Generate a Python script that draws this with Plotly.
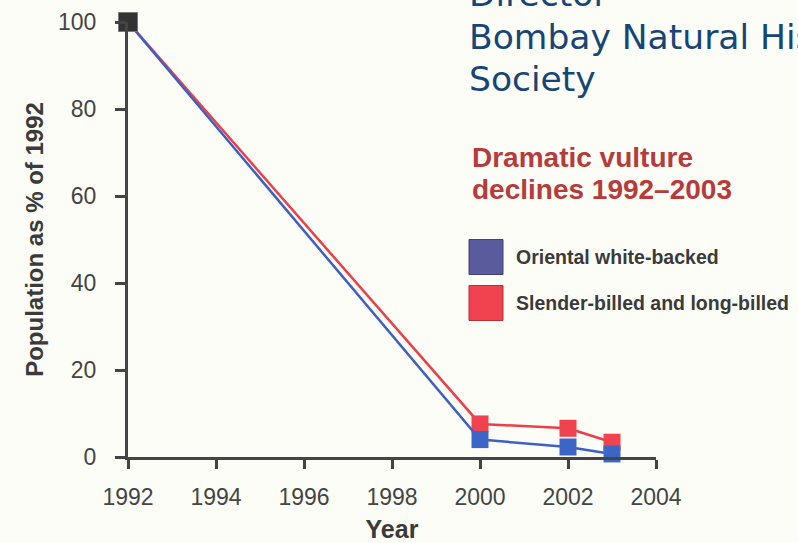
import plotly.graph_objects as go

years = [1992, 2000, 2002, 2003]
oriental_white_backed = [100, 4.0, 2.3, 0.7]
slender_long_billed = [100, 7.6, 6.6, 3.4]
base_year = [1992]
base_value = [100]

x_ticks = [1992, 1994, 1996, 1998, 2000, 2002, 2004]
y_ticks = [0, 20, 40, 60, 80, 100]

W, H = 798, 543
# screen-pixel positions of the plot area in the reference
SX0, SX1, SY0, SY1 = 128, 656, 22, 457
L = SX0
R = W - SX1
T = SY0
B = H - SY1
PW, PH = W - L - R, H - T - B


def fx(px):
    return (px - SX0) / PW


def fy(py):
    return (SY1 - py) / PH


BLUE_LINE = "#3d5fc6"
RED_LINE = "#ee3f47"
BLUE_MK = "#3b66c7"
RED_MK = "#f0434f"
AX = "#444444"
BG = "#fdfdf7"

fig = go.Figure()
fig.add_trace(go.Scatter(
    x=years, y=slender_long_billed, mode="lines+markers",
    name="Slender-billed and long-billed",
    line=dict(color=RED_LINE, width=2.5),
    marker=dict(symbol="square", size=17, color=RED_MK),
    cliponaxis=False, showlegend=False))
fig.add_trace(go.Scatter(
    x=years, y=oriental_white_backed, mode="lines+markers",
    name="Oriental white-backed",
    line=dict(color=BLUE_LINE, width=2.5),
    marker=dict(symbol="square", size=17, color=BLUE_MK),
    cliponaxis=False, showlegend=False))
fig.add_trace(go.Scatter(
    x=base_year, y=base_value, mode="markers", name="1992",
    marker=dict(symbol="square", size=19, color="#333333",
                line=dict(color="#777777", width=1)),
    cliponaxis=False, showlegend=False))

annotations = []
# Blue header text (cut off at the edge)
for txt, cy in [("Director", -6), ("Bombay Natural History", 37), ("Society", 79)]:
    annotations.append(dict(
        text=txt, xref="paper", yref="paper", x=fx(467), y=fy(cy),
        xanchor="left", yanchor="middle", showarrow=False,
        font=dict(family="DejaVu Sans", size=34.5, color="#154677")))
# Title
for txt, cy in [("Dramatic vulture", 157.5), ("declines 1992\u20132003", 189.5)]:
    annotations.append(dict(
        text="<b>" + txt + "</b>", xref="paper", yref="paper", x=fx(470), y=fy(cy),
        xanchor="left", yanchor="middle", showarrow=False,
        font=dict(family="Liberation Sans", size=28, color="#b73b3b")))
# Legend
legend_items = [("Oriental white-backed", "#5a5b9c", "#3f4178", 257),
                ("Slender-billed and long-billed", "#f0434f", "#b83038", 303)]
shapes = []
for txt, fill, edge, cy in legend_items:
    shapes.append(dict(type="rect", xref="paper", yref="paper",
                       x0=fx(469), x1=fx(503), y0=fy(cy - 17.5), y1=fy(cy + 17.5),
                       fillcolor=fill, line=dict(color=edge, width=1)))
    annotations.append(dict(
        text="<b>" + txt + "</b>", xref="paper", yref="paper", x=fx(514), y=fy(cy),
        xanchor="left", yanchor="middle", showarrow=False,
        font=dict(family="Liberation Sans", size=19.5, color="#3a3a3a")))

fig.update_layout(
    width=W, height=H,
    margin=dict(l=L, r=R, t=T, b=B, pad=0, autoexpand=False),
    paper_bgcolor=BG, plot_bgcolor=BG,
    showlegend=False,
    annotations=annotations, shapes=shapes,
    font=dict(family="Liberation Sans", color=AX),
)
fig.update_xaxes(
    range=[1992, 2004], tickvals=x_ticks, ticktext=[str(v) for v in x_ticks],
    automargin=False,
    showgrid=False, zeroline=False, showline=True, linecolor=AX, linewidth=3,
    ticks="outside", ticklen=9, tickwidth=2.5, tickcolor=AX,
    tickfont=dict(family="Liberation Sans", size=23, color=AX),
    ticklabelstandoff=8,
    title=dict(text="<b>Year</b>", font=dict(family="Liberation Sans", size=25, color="#3a3a3a"),
               standoff=12),
)
fig.update_yaxes(
    range=[0, 100], tickvals=y_ticks, ticktext=[str(v) for v in y_ticks],
    automargin=False,
    showgrid=False, zeroline=False, showline=True, linecolor=AX, linewidth=3,
    ticks="outside", ticklen=10, tickwidth=2.5, tickcolor=AX,
    tickfont=dict(family="Liberation Sans", size=23, color=AX),
    ticklabelstandoff=14,
    title=dict(text="<b>Population as % of 1992</b>",
               font=dict(family="Liberation Sans", size=24, color="#3a3a3a"), standoff=8),
)

fig.write_html(
    "out.html",
    config={"displayModeBar": False},
    post_script=("document.body.style.margin='0';"
                 "document.body.style.overflow='hidden';"
                 "document.body.style.backgroundColor='%s';" % BG))
